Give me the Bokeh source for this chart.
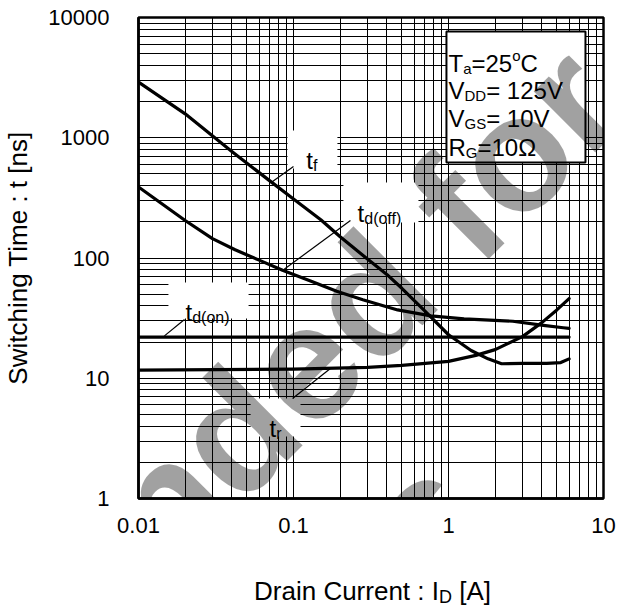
import math
from bokeh.plotting import figure
from bokeh.models import FixedTicker, Label, Range1d, CustomJSTickFormatter
from bokeh.embed import file_html
from bokeh.resources import INLINE

# ---------------- data ----------------
x_ticks = [0.01, 0.1, 1, 10]
x_tick_labels = ["0.01", "0.1", "1", "10"]
y_ticks = [1, 10, 100, 1000, 10000]
y_tick_labels = ["1", "10", "100", "1000", "10000"]

# fall time t_f
id_tf = [0.01, 0.02, 0.04, 0.07, 0.1, 0.15, 0.2, 0.3, 0.4, 0.5, 0.7, 1.0, 1.4, 1.8, 2.2, 3.0, 4.3, 5.3, 6.0]
t_f = [2900, 1580, 770, 440, 310, 208, 150, 98, 73, 56, 36.5, 23, 17, 14.5, 13.2, 13.3, 13.3, 13.5, 14.5]

# turn-off delay t_d(off)
id_tdoff = [0.01, 0.014, 0.02, 0.03, 0.042, 0.06, 0.085, 0.13, 0.19, 0.28, 0.47, 0.77, 1.26, 2.6, 4.1, 5.5, 6.0]
t_doff = [390, 285, 205, 145, 117, 96, 79, 64, 53, 45, 37, 33, 31.2, 29.8, 27.5, 26.3, 26]

# turn-on delay t_d(on)
id_tdon = [0.01, 6.0]
t_don = [22, 22]

# rise time t_r
id_tr = [0.01, 0.1, 0.3, 0.5, 1.0, 1.5, 2.0, 3.0, 4.0, 5.0, 6.0]
t_r = [11.7, 11.9, 12.3, 12.8, 13.8, 15.5, 17.3, 22.2, 29, 37, 46]

# ---------------- annotation layout (data units) ----------------
label_boxes_left = [0.0915, 0.210, 0.0156, 0.0529]
label_boxes_right = [0.192, 0.640, 0.0513, 0.111]
label_boxes_bottom = [555, 197, 31.4, 3.28]
label_boxes_top = [1148, 425, 62.5, 6.79]

cond_box = dict(left=[0.970], right=[7.65], bottom=[622], top=[7650])

leaders = [
    ([0.0733, 0.1], [433, 577]),      # t_f
    ([0.0849, 0.233], [78.7, 205]),   # t_d(off)
    ([0.0147, 0.0198], [22.5, 30.8]), # t_d(on)
    ([0.0986, 0.173], [6.79, 12.05]), # t_r
]

FONT = "Liberation Sans"

# Arial / Liberation Sans advance widths (per 1000 em)
W = {" ": 278, "(": 333, ")": 333, ".": 278, ":": 278, "=": 584, "[": 278, "]": 278,
     "A": 667, "C": 722, "D": 722, "G": 778, "I": 278, "R": 722, "S": 667, "T": 611, "V": 667,
     "a": 556, "c": 500, "d": 556, "e": 556, "f": 278, "g": 556, "h": 556, "i": 222, "m": 833,
     "n": 556, "o": 556, "r": 333, "s": 500, "t": 278, "u": 556, "w": 722, "\u03a9": 768}


def tw(s, size):
    return sum(W.get(c, 556) for c in s) * size / 1000.0


def rich(x, y, runs, start=0.0):
    off = start
    out = []
    for t, s, dy in runs:
        if t.strip():
            out.append(Label(x=x, y=y, x_offset=off, y_offset=dy, text=t, text_font=FONT,
                             text_font_size=f"{s}px", text_color="black",
                             text_align="left", text_baseline="alphabetic"))
        off += tw(t, s)
    return out


# ---------------- figure ----------------
p = figure(frame_width=465, frame_height=481, x_axis_type="log", y_axis_type="log",
           x_range=Range1d(0.01, 10), y_range=Range1d(1, 10000),
           output_backend="svg", toolbar_location=None,
           min_border_left=0, min_border_right=17, min_border_top=17, min_border_bottom=110,
           background_fill_color="white", border_fill_color="white")
p.outline_line_color = "black"
p.outline_line_width = 2.5
p.outline_line_alpha = 1.0

x_minor = [m * 10.0 ** e for e in range(-2, 1) for m in range(2, 10)]
y_minor = [m * 10.0 ** e for e in range(0, 4) for m in range(2, 10)]
xt = FixedTicker(ticks=x_ticks, minor_ticks=x_minor)
yt = FixedTicker(ticks=y_ticks, minor_ticks=y_minor)
xax = p.xaxis[0]
yax = p.yaxis[0]
xax.ticker = xt
yax.ticker = yt
p.xgrid.ticker = xt
p.ygrid.ticker = yt

fmt_code = """
for (let i = 0; i < tv.length; i++) {
  if (Math.abs(Math.log10(tv[i]) - Math.log10(tick)) < 1e-6) return tl[i];
}
return '';
"""
xax.formatter = CustomJSTickFormatter(args=dict(tv=x_ticks, tl=x_tick_labels), code=fmt_code)
yax.formatter = CustomJSTickFormatter(args=dict(tv=y_ticks, tl=y_tick_labels), code=fmt_code)

for ax in [xax, yax]:
    ax.axis_line_color = "black"
    ax.axis_line_width = 2.5
    ax.major_tick_line_color = None
    ax.minor_tick_line_color = None
    ax.major_tick_out = 0
    ax.major_tick_in = 0
    ax.minor_tick_out = 0
    ax.minor_tick_in = 0
    ax.major_label_text_font = FONT
    ax.major_label_text_font_size = "22px"
    ax.major_label_text_color = "black"
yax.major_label_standoff = 29
xax.major_label_standoff = 19

yax.axis_label = "Switching Time : t [ns]"
yax.axis_label_text_font = FONT
yax.axis_label_text_font_size = "26px"
yax.axis_label_text_font_style = "normal"
yax.axis_label_text_color = "black"
yax.axis_label_standoff = 12

for g in [p.xgrid[0], p.ygrid[0]]:
    g.grid_line_color = "black"
    g.grid_line_width = 1
    g.grid_line_alpha = 1.0
    g.minor_grid_line_color = "black"
    g.minor_grid_line_width = 1
    g.minor_grid_line_alpha = 1.0

# white label boxes masking the grid
p.quad(left=label_boxes_left, right=label_boxes_right, bottom=label_boxes_bottom,
       top=label_boxes_top, fill_color="white", line_color=None)

# curves
for xs, ys in [(id_tf, t_f), (id_tdoff, t_doff), (id_tdon, t_don), (id_tr, t_r)]:
    p.line(xs, ys, line_width=3.2, line_color="black", line_join="round", line_cap="round")

# leader lines
for xs, ys in leaders:
    p.line(xs, ys, line_width=1.2, line_color="black")

# conditions box
p.quad(**cond_box, fill_color="white", line_color="black", line_width=2)

labels = []
MAIN, SUB = 24, 16
labels += rich(0.121, 647, [("t", MAIN, 0), ("f", SUB, -5)])
labels += rich(0.259, 233, [("t", MAIN, 0), ("d(off)", SUB, -5)])
labels += rich(0.0201, 35.2, [("t", MAIN, 0), ("d(on)", SUB, -5)])
labels += rich(0.070, 3.82, [("t", MAIN, 0), ("r", SUB, -5)])

CM, CS = 24, 15
labels += rich(1.0, 4145, [("T", CM, 0), ("a", CS, -5), ("=25", CM, 0), ("o", CS, 8), ("C", CM, 0)])
labels += rich(1.0, 2448, [("V", CM, 0), ("DD", CS, -5), ("= 125V", CM, 0)])
labels += rich(1.0, 1432, [("V", CM, 0), ("GS", CS, -5), ("= 10V", CM, 0)])
labels += rich(1.0, 830, [("R", CM, 0), ("G", CS, -5), ("=10\u03a9", CM, 0)])

for lb in labels:
    p.add_layout(lb)

# x axis title with subscript, placed in side panels so it is not clipped
xt_runs = [("Drain Current : I", 26, 0), ("D", 18, -6), (" ", 26, 0), ("[A]", 26, 0)]
xt_total = sum(tw(t, s) for t, s, dy in xt_runs)
xt_parts = rich(0.3234, 0.170, xt_runs, start=-xt_total / 2.0)
p.add_layout(xt_parts[0], "below")
p.add_layout(xt_parts[2], "below")
p.add_layout(xt_parts[1], "right")

# watermark (translucent, over everything)
for (wx, wy, wt) in [(8.49, 3294, "Not Recommended for"), (1.093, 1.307, "New Designs")]:
    p.add_layout(Label(x=wx, y=wy, text=wt, angle=math.pi / 4, text_font=FONT,
                       text_font_style="bold", text_font_size="164px", text_color="black",
                       text_alpha=0.37, text_align="right", text_baseline="alphabetic",
                       level="overlay"))

open("out.html", "w").write(file_html(p, INLINE))
